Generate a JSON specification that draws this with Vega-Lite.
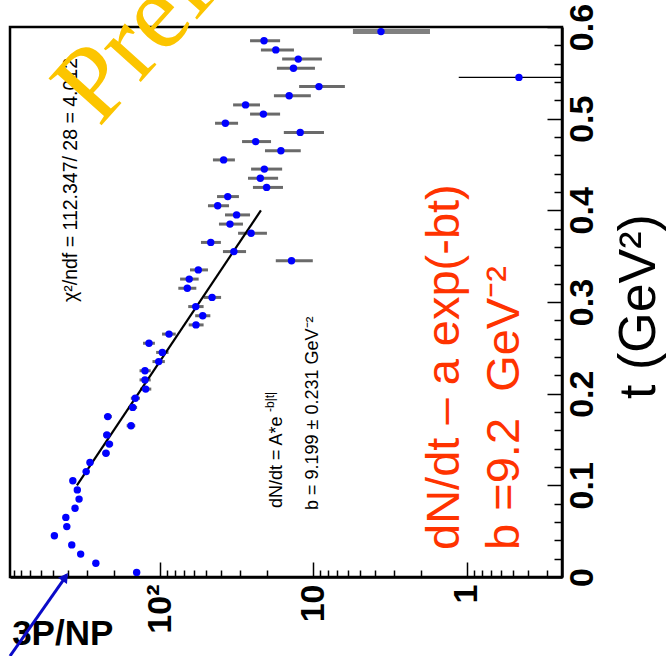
{
  "$schema": "https://vega.github.io/schema/vega-lite/v6.json",
  "width": 552,
  "height": 550,
  "autosize": {"type": "none"},
  "padding": {"left": 10, "top": 27, "right": 106, "bottom": 79},
  "background": "white",
  "config": {"view": {"stroke": "black", "strokeWidth": 2.5}},
  "datasets": {
    "points": [
      {"t": 0.005, "dndt": 142, "lo": 137, "hi": 147},
      {"t": 0.015, "dndt": 262, "lo": 254, "hi": 271},
      {"t": 0.025, "dndt": 329, "lo": 318, "hi": 340},
      {"t": 0.035, "dndt": 376, "lo": 364, "hi": 389},
      {"t": 0.045, "dndt": 488, "lo": 472, "hi": 505},
      {"t": 0.055, "dndt": 405, "lo": 392, "hi": 419},
      {"t": 0.065, "dndt": 411, "lo": 397, "hi": 425},
      {"t": 0.075, "dndt": 358, "lo": 345, "hi": 371},
      {"t": 0.085, "dndt": 337, "lo": 325, "hi": 350},
      {"t": 0.095, "dndt": 346, "lo": 333, "hi": 359},
      {"t": 0.105, "dndt": 370, "lo": 354, "hi": 387},
      {"t": 0.115, "dndt": 303, "lo": 289, "hi": 318},
      {"t": 0.125, "dndt": 286, "lo": 272, "hi": 300},
      {"t": 0.135, "dndt": 225, "lo": 213, "hi": 238},
      {"t": 0.145, "dndt": 214, "lo": 202, "hi": 227},
      {"t": 0.155, "dndt": 222, "lo": 209, "hi": 235},
      {"t": 0.165, "dndt": 154.5, "lo": 145, "hi": 165},
      {"t": 0.175, "dndt": 219, "lo": 206, "hi": 232},
      {"t": 0.185, "dndt": 150.6, "lo": 141, "hi": 161},
      {"t": 0.195, "dndt": 144.9, "lo": 135, "hi": 155},
      {"t": 0.205, "dndt": 124, "lo": 114, "hi": 135},
      {"t": 0.215, "dndt": 125.3, "lo": 115, "hi": 136},
      {"t": 0.225, "dndt": 125.3, "lo": 115, "hi": 136},
      {"t": 0.235, "dndt": 102, "lo": 93, "hi": 112},
      {"t": 0.245, "dndt": 96.6, "lo": 88, "hi": 106},
      {"t": 0.255, "dndt": 118, "lo": 108, "hi": 129},
      {"t": 0.265, "dndt": 87.4, "lo": 79, "hi": 97},
      {"t": 0.275, "dndt": 58.3, "lo": 52, "hi": 65},
      {"t": 0.285, "dndt": 52.7, "lo": 47, "hi": 59},
      {"t": 0.295, "dndt": 58.5, "lo": 52, "hi": 65.5},
      {"t": 0.305, "dndt": 45.8, "lo": 40, "hi": 52},
      {"t": 0.315, "dndt": 66.4, "lo": 58, "hi": 76},
      {"t": 0.325, "dndt": 64.5, "lo": 56, "hi": 74},
      {"t": 0.335, "dndt": 56.3, "lo": 48.7, "hi": 63.8},
      {"t": 0.345, "dndt": 13.9, "lo": 10.1, "hi": 17.6},
      {"t": 0.355, "dndt": 33.0, "lo": 27.5, "hi": 38.9},
      {"t": 0.365, "dndt": 46.7, "lo": 40.1, "hi": 54.1},
      {"t": 0.375, "dndt": 25.5, "lo": 20.1, "hi": 31.0},
      {"t": 0.385, "dndt": 35.0, "lo": 28.8, "hi": 41.3},
      {"t": 0.395, "dndt": 31.7, "lo": 25.9, "hi": 37.7},
      {"t": 0.405, "dndt": 42.1, "lo": 35.5, "hi": 48.7},
      {"t": 0.415, "dndt": 36.2, "lo": 30.6, "hi": 42.5},
      {"t": 0.425, "dndt": 20.2, "lo": 15.8, "hi": 24.8},
      {"t": 0.435, "dndt": 22.2, "lo": 17.0, "hi": 26.7},
      {"t": 0.445, "dndt": 20.9, "lo": 16.0, "hi": 25.5},
      {"t": 0.455, "dndt": 38.5, "lo": 32.5, "hi": 45.2},
      {"t": 0.465, "dndt": 16.3, "lo": 12.1, "hi": 20.7},
      {"t": 0.475, "dndt": 23.8, "lo": 18.9, "hi": 29.2},
      {"t": 0.485, "dndt": 12.2, "lo": 8.54, "hi": 15.6},
      {"t": 0.495, "dndt": 37.5, "lo": 31.0, "hi": 43.8},
      {"t": 0.505, "dndt": 21.2, "lo": 16.5, "hi": 25.9},
      {"t": 0.515, "dndt": 27.7, "lo": 22.3, "hi": 33.4},
      {"t": 0.525, "dndt": 14.4, "lo": 10.4, "hi": 18.1},
      {"t": 0.535, "dndt": 9.21, "lo": 6.24, "hi": 12.4},
      {"t": 0.545, "dndt": 0.458, "lo": 0.2, "hi": 1.13},
      {"t": 0.555, "dndt": 13.5, "lo": 9.78, "hi": 17.3},
      {"t": 0.565, "dndt": 12.56, "lo": 8.81, "hi": 16.0},
      {"t": 0.575, "dndt": 17.6, "lo": 13.4, "hi": 22.0},
      {"t": 0.585, "dndt": 21.0, "lo": 16.5, "hi": 25.9},
      {"t": 0.595, "dndt": 3.63, "lo": 1.74, "hi": 5.53}
    ],
    "fit": [
      {"t": 0.1, "dndt": 348},
      {"t": 0.4, "dndt": 22.0}
    ]
  },
  "encoding": {
    "x": {
      "field": "dndt",
      "type": "quantitative",
      "scale": {"type": "log", "domain": [0.24, 950], "reverse": true, "nice": false},
      "axis": {
        "orient": "bottom",
        "title": null,
        "values": [0.3, 0.4, 0.5, 0.6, 0.7, 0.8, 0.9, 1, 2, 3, 4, 5, 6, 7, 8, 9, 10, 20, 30, 40, 50, 60, 70, 80, 90, 100, 200, 300, 400, 500, 600, 700, 800, 900],
        "labelExpr": "datum.value == 1 ? '1' : datum.value == 10 ? '10' : datum.value == 100 ? '10²' : ''",
        "labelAngle": -90,
        "labelAlign": "right",
        "labelBaseline": "middle",
        "labelFont": "Liberation Sans",
        "labelFontWeight": "bold",
        "labelFontSize": 34,
        "labelColor": "black",
        "labelPadding": 22,
        "labelOverlap": false,
        "labelFlush": false,
        "labelBound": false,
        "tickSize": {"condition": {"test": "datum.value == 1 || datum.value == 10 || datum.value == 100", "value": -15}, "value": -7},
        "tickColor": "black",
        "tickWidth": 1.5,
        "domainColor": "black",
        "domainWidth": 2.5,
        "grid": false
      }
    },
    "y": {
      "field": "t",
      "type": "quantitative",
      "scale": {"domain": [0, 0.6], "nice": false, "zero": false},
      "axis": {
        "orient": "right",
        "title": "t (GeV²)",
        "values": [0, 0.02, 0.04, 0.06, 0.08, 0.1, 0.12, 0.14, 0.16, 0.18, 0.2, 0.22, 0.24, 0.26, 0.28, 0.3, 0.32, 0.34, 0.36, 0.38, 0.4, 0.42, 0.44, 0.46, 0.48, 0.5, 0.52, 0.54, 0.56, 0.58, 0.6],
        "labelExpr": "round(datum.value * 100) % 10 == 0 ? format(datum.value, '.1~f') : ''",
        "labelAngle": -90,
        "labelAlign": "center",
        "labelBaseline": "top",
        "labelFont": "Liberation Sans",
        "labelFontWeight": "bold",
        "labelFontSize": 34,
        "labelColor": "black",
        "labelPadding": 18,
        "labelOverlap": false,
        "labelFlush": false,
        "labelBound": false,
        "tickSize": {"condition": {"test": "round(datum.value * 100) % 10 == 0", "value": -15}, "value": -8},
        "tickColor": "black",
        "tickWidth": 1.5,
        "domainColor": "black",
        "domainWidth": 2.5,
        "grid": false,
        "titleAngle": -90,
        "titleFont": "Liberation Sans",
        "titleFontSize": 52,
        "titleFontWeight": "normal",
        "titleColor": "black",
        "titleBaseline": "alphabetic",
        "titleAlign": "center",
        "titleX": 92,
        "titleY": 279
      }
    }
  },
  "layer": [
    {
      "data": {"name": "points"},
      "transform": [{"filter": "abs(datum.t - 0.545) > 0.001 && datum.t < 0.59"}],
      "mark": {"type": "rule", "color": "#6a6a6a", "strokeWidth": 3},
      "encoding": {
        "x": {"field": "lo", "type": "quantitative", "title": null},
        "x2": {"field": "hi"}
      }
    },
    {
      "data": {"name": "points"},
      "transform": [{"filter": "datum.t > 0.59"}],
      "mark": {"type": "rule", "color": "#808080", "strokeWidth": 5},
      "encoding": {
        "x": {"field": "lo", "type": "quantitative", "title": null},
        "x2": {"field": "hi"}
      }
    },
    {
      "data": {"name": "points"},
      "transform": [{"filter": "abs(datum.t - 0.545) < 0.001"}],
      "mark": {"type": "rule", "color": "black", "strokeWidth": 1.3, "clip": true},
      "encoding": {
        "x": {"field": "lo", "type": "quantitative", "title": null},
        "x2": {"field": "hi"}
      }
    },
    {
      "data": {"name": "fit"},
      "mark": {"type": "line", "color": "black", "strokeWidth": 2.2},
      "encoding": {}
    },
    {
      "data": {"name": "points"},
      "mark": {"type": "point", "shape": "circle", "filled": true, "color": "#0000ff", "opacity": 1, "size": 55}
    },
    {
      "data": {"name": "points"},
      "transform": [{"filter": "datum.t < 0.01"}],
      "mark": {"type": "text", "text": "χ²/ndf = 112.347/ 28 = 4.012", "angle": -90, "align": "left", "baseline": "alphabetic", "font": "Liberation Sans", "fontSize": 19.5, "color": "black"},
      "encoding": {"x": {"datum": 347}, "y": {"datum": 0.3}}
    },
    {
      "data": {"name": "points"},
      "transform": [{"filter": "datum.t < 0.01"}],
      "mark": {"type": "text", "text": "dN/dt = A*e", "angle": -90, "align": "left", "baseline": "alphabetic", "font": "Liberation Sans", "fontSize": 18, "color": "black"},
      "encoding": {"x": {"datum": 16.0}, "y": {"datum": 0.0753}}
    },
    {
      "data": {"name": "points"},
      "transform": [{"filter": "datum.t < 0.01"}],
      "mark": {"type": "text", "text": "-b|t|", "angle": -90, "align": "left", "baseline": "alphabetic", "font": "Liberation Sans", "fontSize": 12, "color": "black"},
      "encoding": {"x": {"datum": 18.1}, "y": {"datum": 0.18}}
    },
    {
      "data": {"name": "points"},
      "transform": [{"filter": "datum.t < 0.01"}],
      "mark": {"type": "text", "text": "b = 9.199 ± 0.231 GeV⁻²", "angle": -90, "align": "left", "baseline": "alphabetic", "font": "Liberation Sans", "fontSize": 18, "color": "black"},
      "encoding": {"x": {"datum": 9.35}, "y": {"datum": 0.0731}}
    },
    {
      "data": {"name": "points"},
      "transform": [{"filter": "datum.t < 0.01"}],
      "mark": {"type": "text", "text": "dN/dt – a exp(-bt)", "angle": -90, "align": "left", "baseline": "alphabetic", "font": "Liberation Sans", "fontSize": 47, "color": "#ff3300"},
      "encoding": {"x": {"datum": 1.12}, "y": {"datum": 0.0295}}
    },
    {
      "data": {"name": "points"},
      "transform": [{"filter": "datum.t < 0.01"}],
      "mark": {"type": "text", "text": "b =9.2\u00a0 GeV⁻²", "angle": -90, "align": "left", "baseline": "alphabetic", "font": "Liberation Sans", "fontSize": 47, "color": "#ff3300"},
      "encoding": {"x": {"datum": 0.46}, "y": {"datum": 0.0295}}
    },
    {
      "data": {"name": "points"},
      "transform": [{"filter": "datum.t < 0.01"}],
      "mark": {"type": "text", "text": "3P/NP", "angle": 0, "align": "left", "baseline": "alphabetic", "font": "Liberation Sans", "fontWeight": "bold", "fontSize": 35, "color": "black"},
      "encoding": {"x": {"datum": 920}, "y": {"datum": -0.0742}}
    },
    {
      "data": {"name": "points"},
      "transform": [{"filter": "datum.t < 0.01"}],
      "mark": {"type": "rule", "color": "#0a0ac8", "strokeWidth": 3},
      "encoding": {"x": {"datum": 950}, "y": {"datum": -0.0862}, "x2": {"datum": 405}, "y2": {"datum": 0.002}}
    },
    {
      "data": {"name": "points"},
      "transform": [{"filter": "datum.t < 0.01"}],
      "mark": {"type": "point", "shape": "triangle-up", "angle": 35, "filled": true, "color": "#0a0ac8", "opacity": 1, "size": 120},
      "encoding": {"x": {"datum": 415}, "y": {"datum": 0.0}}
    },
    {
      "data": {"name": "points"},
      "transform": [{"filter": "datum.t < 0.01"}],
      "mark": {"type": "text", "text": "Preliminary", "angle": -48, "align": "left", "baseline": "alphabetic", "font": "Liberation Serif", "fontSize": 108, "color": "#fcc500"},
      "encoding": {"x": {"datum": 249.6}, "y": {"datum": 0.4898}}
    }
  ]
}
